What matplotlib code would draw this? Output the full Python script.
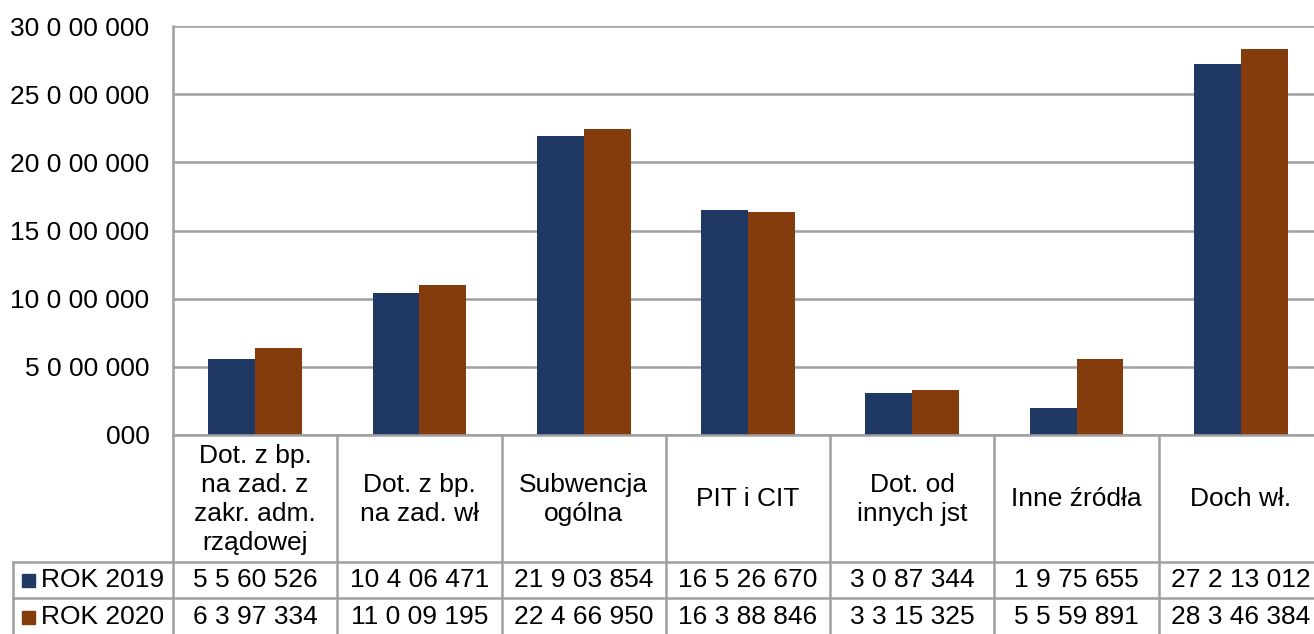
import matplotlib
matplotlib.use("Agg")
import matplotlib.pyplot as plt
import numpy as np
from matplotlib.transforms import blended_transform_factory
from matplotlib.patches import Rectangle

categories = ["Dot. z bp.\nna zad. z\nzakr. adm.\nrządowej", "Dot. z bp.\nna zad. wł",
              "Subwencja\nogólna", "PIT i CIT", "Dot. od\ninnych jst", "Inne źródła", "Doch wł."]
rok2019 = [5560526, 10406471, 21903854, 16526670, 3087344, 1975655, 27213012]
rok2020 = [6397334, 11009195, 22466950, 16388846, 3315325, 5559891, 28346384]
series_names = ["ROK 2019", "ROK 2020"]
yticks = [0, 5000000, 10000000, 15000000, 20000000, 25000000, 30000000]

C1 = "#203864"
C2 = "#843C0C"
GRID = "#A0A0A0"
FS = 19

plt.rcParams['font.family'] = ['Liberation Sans', 'DejaVu Sans']


def fmt(n):
    s = str(int(round(n)))
    parts = [s[-3:].zfill(3)]
    rest = s[:-3]
    if rest:
        parts.insert(0, rest[-2:])
        rest = rest[:-2]
    if rest:
        parts.insert(0, rest[-1:])
        rest = rest[:-1]
    if rest:
        parts.insert(0, rest)
    return " ".join(parts)


W, H = 1314, 634
fig = plt.figure(figsize=(W / 100, H / 100), dpi=100)
x_left, x_right = 173, 1323
y_top, y_bot = 26, 435
ax = fig.add_axes([x_left / W, 1 - y_bot / H, (x_right - x_left) / W, (y_bot - y_top) / H])

n = len(categories)
x = np.arange(n)
bw = 0.285
ax.bar(x - bw / 2, rok2019, bw, color=C1, zorder=3)
ax.bar(x + bw / 2, rok2020, bw, color=C2, zorder=3)
ax.set_xlim(-0.5, n - 0.5)
ax.set_ylim(0, 30000000)
ax.set_yticks(yticks)
ax.set_yticklabels([fmt(v) for v in yticks], fontsize=FS)
ax.tick_params(axis='y', length=0, pad=17)
ax.set_xticks([])
ax.grid(axis='y', color=GRID, linewidth=1.8, zorder=0)
for s in ['top', 'right', 'bottom']:
    ax.spines[s].set_visible(False)
ax.spines['left'].set_color(GRID)
ax.spines['left'].set_linewidth(1.8)

# data table below
tr = blended_transform_factory(ax.transData, fig.transFigure)
fy = lambda py: 1 - py / H
fx = lambda px: px / W
row_top = 562
row_mid = 598
row_bot = 636
lw = 1.8
kw = dict(color=GRID, linewidth=lw, clip_on=False)
fig.add_artist(plt.Line2D([fx(x_left), fx(x_right)], [fy(y_bot), fy(y_bot)], **kw))
for py in (row_top, row_mid, row_bot):
    fig.add_artist(plt.Line2D([fx(13), fx(x_right)], [fy(py), fy(py)], **kw))
fig.add_artist(plt.Line2D([fx(x_left), fx(x_left)], [fy(y_bot), fy(row_bot)], **kw))
fig.add_artist(plt.Line2D([fx(13), fx(13)], [fy(row_top), fy(row_bot)], **kw))
for i in range(1, n + 1):
    ax.add_line(plt.Line2D([i - 0.5, i - 0.5], [fy(y_bot), fy(row_bot)], transform=tr, **kw))

hdr_c = fy((y_bot + row_top) / 2 + 1)
r1_c = fy((row_top + row_mid) / 2)
r2_c = fy((row_mid + row_bot) / 2)
for i, c in enumerate(categories):
    ax.text(i, hdr_c, c, transform=tr, ha='center', va='center', fontsize=FS,
            linespacing=1.28, clip_on=False)
    ax.text(i, r1_c, fmt(rok2019[i]), transform=tr, ha='center', va='center', fontsize=FS, clip_on=False)
    ax.text(i, r2_c, fmt(rok2020[i]), transform=tr, ha='center', va='center', fontsize=FS, clip_on=False)

for name, col, yc in ((series_names[0], C1, r1_c), (series_names[1], C2, r2_c)):
    sq = 13
    fig.add_artist(Rectangle((fx(22), yc - sq / 2 / H), sq / W, sq / H, color=col,
                             transform=fig.transFigure))
    fig.text(fx(41), yc, name, ha='left', va='center', fontsize=FS)

fig.savefig("out.png", dpi=100)
